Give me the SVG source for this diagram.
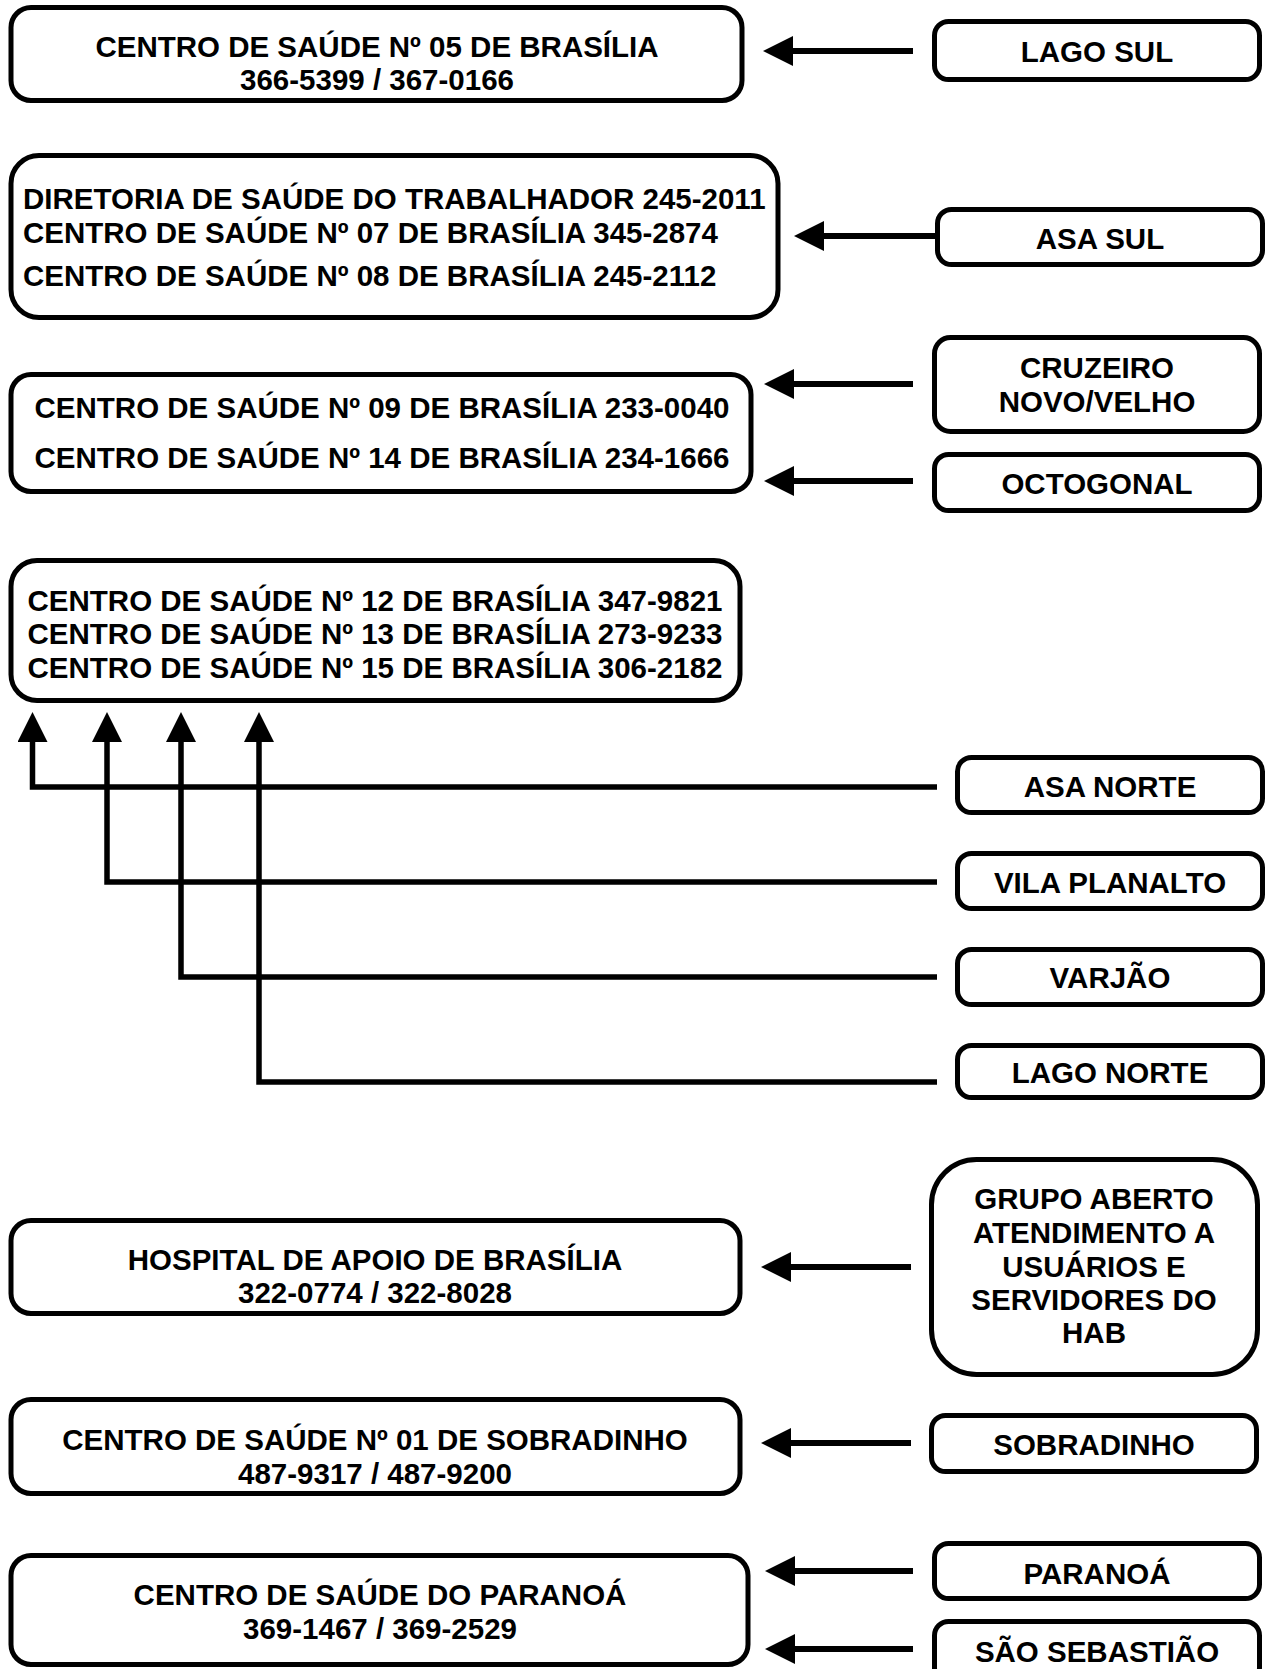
<svg xmlns="http://www.w3.org/2000/svg" width="1272" height="1669" viewBox="0 0 1272 1669">
<style>
.box{fill:#fff;stroke:#000;stroke-width:5}
.t{font-family:"Liberation Sans",Arial,sans-serif;font-weight:bold;font-size:29.5px;fill:#000;text-anchor:middle}
.tl{text-anchor:start}
.c{fill:none;stroke:#000;stroke-width:6}
.cv{fill:none;stroke:#000;stroke-width:5.5}
</style>
<defs>
<marker id="ah" viewBox="0 0 30 30" refX="1" refY="15" markerWidth="30" markerHeight="30" markerUnits="userSpaceOnUse" orient="auto">
<path d="M0,0 L30,15 L0,30 Z" fill="#000"/>
</marker>
</defs>
<rect width="1272" height="1669" fill="#fff"/>

<g id="connectors">
<line class="c" x1="913" y1="51" x2="792" y2="51" marker-end="url(#ah)"/>
<line class="c" x1="935" y1="236" x2="823" y2="236" marker-end="url(#ah)"/>
<line class="c" x1="913" y1="384" x2="793" y2="384" marker-end="url(#ah)"/>
<line class="c" x1="913" y1="481" x2="793" y2="481" marker-end="url(#ah)"/>
<path class="cv" d="M937,787 H32.5 V741" marker-end="url(#ah)"/>
<path class="cv" d="M937,882 H107 V741" marker-end="url(#ah)"/>
<path class="cv" d="M937,977 H181 V741" marker-end="url(#ah)"/>
<path class="cv" d="M937,1082 H259 V741" marker-end="url(#ah)"/>
<line class="c" x1="911" y1="1267" x2="790" y2="1267" marker-end="url(#ah)"/>
<line class="c" x1="911" y1="1443" x2="790" y2="1443" marker-end="url(#ah)"/>
<line class="c" x1="913" y1="1571" x2="794" y2="1571" marker-end="url(#ah)"/>
<line class="c" x1="913" y1="1649" x2="794" y2="1649" marker-end="url(#ah)"/>
</g>

<g id="cs05">
<rect class="box" x="11" y="7.5" width="731" height="93" rx="20"/>
<text class="t" x="377" y="57">CENTRO DE SAÚDE Nº 05 DE BRASÍLIA</text>
<text class="t" x="377" y="90">366-5399 / 367-0166</text>
</g>
<g id="lago-sul">
<rect class="box" x="934.5" y="21.5" width="325" height="58" rx="14"/>
<text class="t" x="1097" y="62">LAGO SUL</text>
</g>

<g id="asa-sul-centros">
<rect class="box" x="11" y="155.5" width="767" height="162" rx="28"/>
<text class="t tl" x="23" y="209">DIRETORIA DE SAÚDE DO TRABALHADOR 245-2011</text>
<text class="t tl" x="23" y="243">CENTRO DE SAÚDE Nº 07 DE BRASÍLIA 345-2874</text>
<text class="t tl" x="23" y="286">CENTRO DE SAÚDE Nº 08 DE BRASÍLIA 245-2112</text>
</g>
<g id="asa-sul">
<rect class="box" x="937.5" y="209.5" width="325" height="55" rx="14"/>
<text class="t" x="1100" y="249">ASA SUL</text>
</g>

<g id="cs09-14">
<rect class="box" x="11" y="374.5" width="740" height="117" rx="20"/>
<text class="t" x="382" y="418">CENTRO DE SAÚDE Nº 09 DE BRASÍLIA 233-0040</text>
<text class="t" x="382" y="468">CENTRO DE SAÚDE Nº 14 DE BRASÍLIA 234-1666</text>
</g>
<g id="cruzeiro">
<rect class="box" x="934.5" y="337.5" width="325" height="94" rx="16"/>
<text class="t" x="1097" y="378">CRUZEIRO</text>
<text class="t" x="1097" y="412">NOVO/VELHO</text>
</g>
<g id="octogonal">
<rect class="box" x="934.5" y="454.5" width="325" height="56" rx="14"/>
<text class="t" x="1097" y="494">OCTOGONAL</text>
</g>

<g id="cs12-13-15">
<rect class="box" x="11" y="560.5" width="729" height="140" rx="26"/>
<text class="t" x="375" y="611">CENTRO DE SAÚDE Nº 12 DE BRASÍLIA 347-9821</text>
<text class="t" x="375" y="644">CENTRO DE SAÚDE Nº 13 DE BRASÍLIA 273-9233</text>
<text class="t" x="375" y="678">CENTRO DE SAÚDE Nº 15 DE BRASÍLIA 306-2182</text>
</g>
<g id="asa-norte">
<rect class="box" x="957.5" y="757.5" width="305" height="55" rx="14"/>
<text class="t" x="1110" y="797">ASA NORTE</text>
</g>
<g id="vila-planalto">
<rect class="box" x="957.5" y="853.5" width="305" height="55" rx="14"/>
<text class="t" x="1110" y="893">VILA PLANALTO</text>
</g>
<g id="varjao">
<rect class="box" x="957.5" y="949.5" width="305" height="55" rx="14"/>
<text class="t" x="1110" y="988">VARJÃO</text>
</g>
<g id="lago-norte">
<rect class="box" x="957.5" y="1045.5" width="305" height="52" rx="14"/>
<text class="t" x="1110" y="1083">LAGO NORTE</text>
</g>

<g id="hab">
<rect class="box" x="11" y="1220.5" width="729" height="93" rx="20"/>
<text class="t" x="375" y="1270">HOSPITAL DE APOIO DE BRASÍLIA</text>
<text class="t" x="375" y="1303">322-0774 / 322-8028</text>
</g>
<g id="grupo-aberto">
<rect class="box" x="931.5" y="1159.5" width="326" height="215" rx="45"/>
<text class="t" x="1094" y="1209">GRUPO ABERTO</text>
<text class="t" x="1094" y="1243">ATENDIMENTO A</text>
<text class="t" x="1094" y="1277">USUÁRIOS E</text>
<text class="t" x="1094" y="1310">SERVIDORES DO</text>
<text class="t" x="1094" y="1343">HAB</text>
</g>

<g id="cs01-sobradinho">
<rect class="box" x="11" y="1399.5" width="729" height="94" rx="20"/>
<text class="t" x="375" y="1450">CENTRO DE SAÚDE Nº 01 DE SOBRADINHO</text>
<text class="t" x="375" y="1484">487-9317 / 487-9200</text>
</g>
<g id="sobradinho">
<rect class="box" x="931.5" y="1415.5" width="325" height="56" rx="14"/>
<text class="t" x="1094" y="1455">SOBRADINHO</text>
</g>

<g id="cs-paranoa">
<rect class="box" x="11" y="1555.5" width="737" height="109" rx="20"/>
<text class="t" x="380" y="1605">CENTRO DE SAÚDE DO PARANOÁ</text>
<text class="t" x="380" y="1639">369-1467 / 369-2529</text>
</g>
<g id="paranoa">
<rect class="box" x="934.5" y="1543.5" width="325" height="55" rx="14"/>
<text class="t" x="1097" y="1584">PARANOÁ</text>
</g>
<g id="sao-sebastiao">
<rect class="box" x="934.5" y="1621.5" width="325" height="60" rx="14"/>
<text class="t" x="1097" y="1662">SÃO SEBASTIÃO</text>
</g>
</svg>
